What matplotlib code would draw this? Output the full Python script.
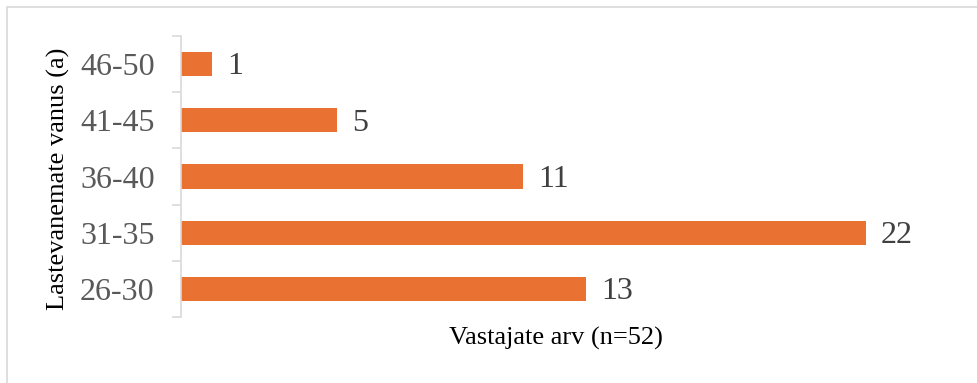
import matplotlib.pyplot as plt
from matplotlib.patches import Rectangle

# data
age_groups = ['26-30', '31-35', '36-40', '41-45', '46-50']
counts = [13, 22, 11, 5, 1]

plt.rcParams['font.family'] = ['Liberation Serif', 'DejaVu Serif']

W, H = 978, 383
fig = plt.figure(figsize=(W / 100, H / 100), dpi=100)

# axes placed in pixel terms of the reference
left, right, top, bottom = 181, 931, 36, 317
ax = fig.add_axes([left / W, 1 - bottom / H, (right - left) / W, (bottom - top) / H])

pos = list(range(len(age_groups)))
ax.barh(pos, counts, height=0.43, color='#E97132')
ax.set_xlim(0, 24.1)
ax.set_ylim(-0.5, len(age_groups) - 0.5)

# value labels
for p, c in zip(pos, counts):
    ax.annotate(str(c), (c, p), xytext=(11, -2), textcoords='offset points',
                va='center', ha='left', fontsize=23, color='#404040')

# category axis: ticks between categories, labels at centres
ax.set_yticks([p - 0.5 for p in pos] + [pos[-1] + 0.5])
ax.set_yticklabels([])
ax.set_yticks(pos, minor=True)
ax.set_yticklabels(age_groups, minor=True, fontsize=23, color='#595959')
ax.tick_params(axis='y', which='major', length=6.5, width=1.2, color='#D9D9D9', direction='out')
ax.tick_params(axis='y', which='minor', length=0, pad=19)
ax.set_xticks([])

for s in ['top', 'right', 'bottom']:
    ax.spines[s].set_visible(False)
ax.spines['left'].set_color('#D9D9D9')
ax.spines['left'].set_linewidth(1.2)

fig.text(58 / W, 1 - 178.5 / H, 'Lastevanemate vanus (a)', rotation=90,
         ha='center', va='center', fontsize=19, color='black')
fig.text(556 / W, 1 - 345 / H, 'Vastajate arv (n=52)', ha='center', va='baseline',
         fontsize=19, color='black')

# outer chart border (cut off at right and bottom in the reference)
fig.patches.append(Rectangle((7 / W, -0.1), 1.1, 1 - 7 / H + 0.1, transform=fig.transFigure,
                             fill=False, edgecolor='#D9D9D9', linewidth=1.2))

fig.savefig('out.png', dpi=100)
